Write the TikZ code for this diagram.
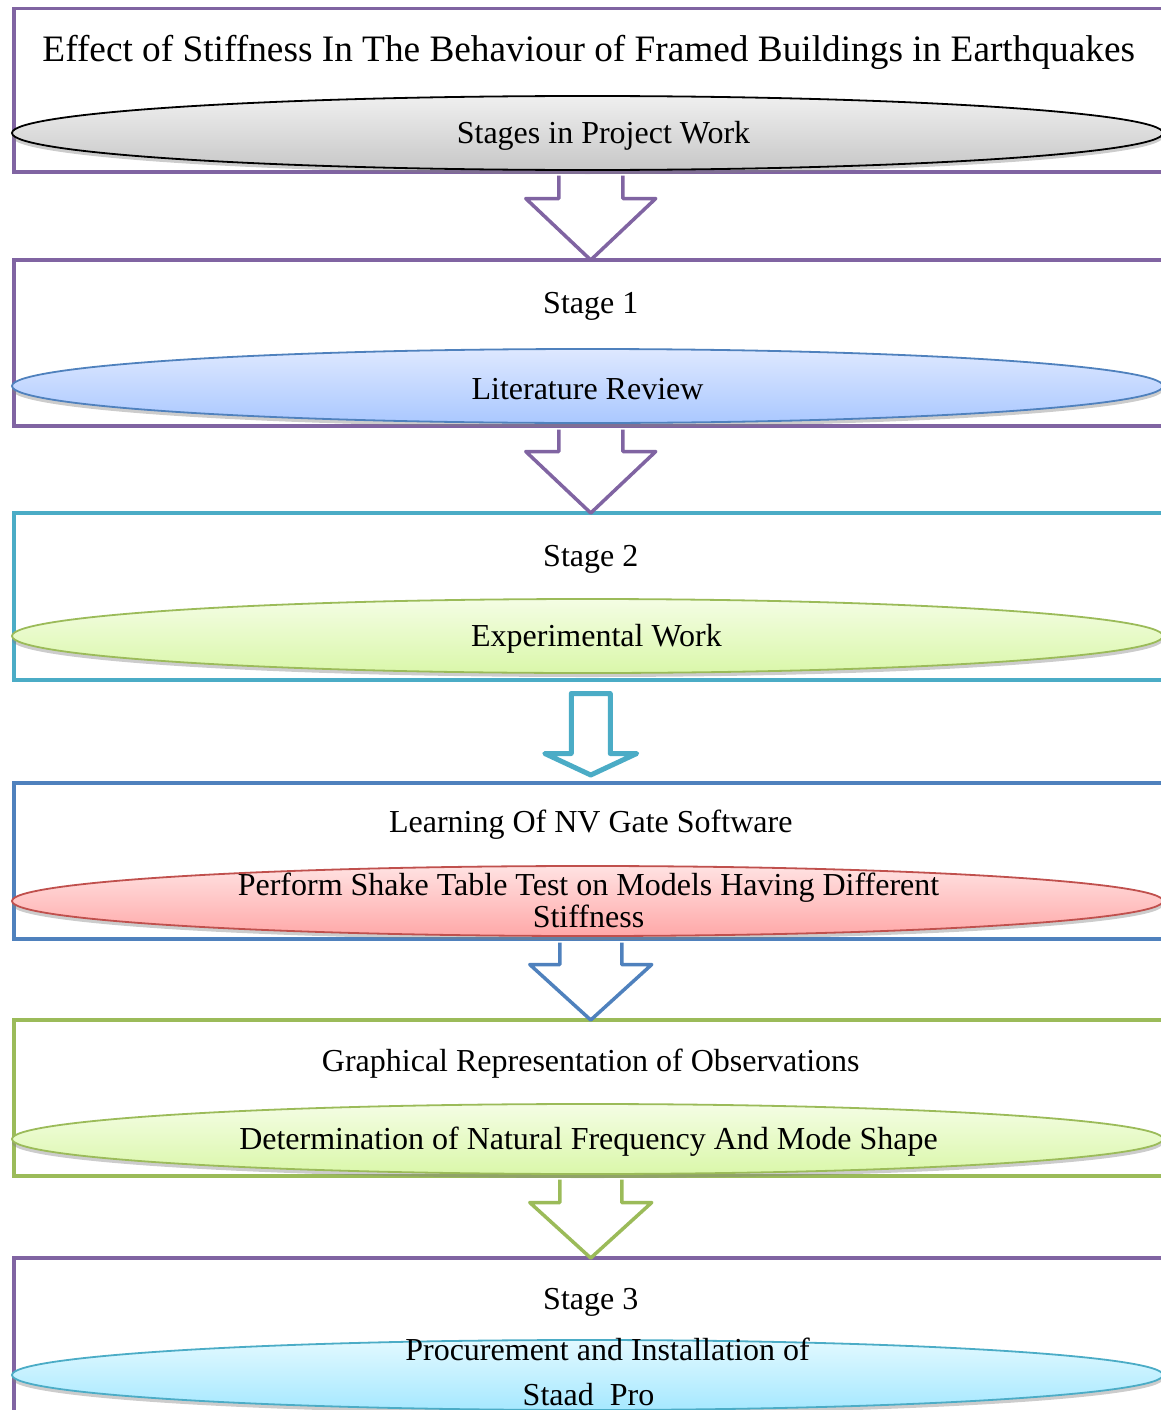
\documentclass[tikz,border=0pt]{standalone}
\usepackage{fontspec}
\setmainfont{Liberation Serif}
\usepackage{tikz}
\usetikzlibrary{positioning, shapes, shadows}
\usetikzlibrary{shapes.geometric}
\definecolor{c_purple}{HTML}{8064A2}
\definecolor{c_teal}{HTML}{4BACC6}
\definecolor{c_blue}{HTML}{4F81BD}
\definecolor{c_green}{HTML}{9BBB59}
\definecolor{c_red}{HTML}{C0504D}
\newcommand{\bodyfont}{\fontsize{32}{32}\selectfont}
\newcommand{\titlefont}{\fontsize{37.3}{40}\selectfont}
\tikzstyle{box_style} = [rectangle, draw, line width=3.5pt, minimum width=1154pt, anchor=north west, inner sep=0pt]
\tikzstyle{ell_style} = [ellipse, draw, line width=1.8pt, minimum width=1151pt, inner sep=0pt, drop shadow={shadow xshift=0pt, shadow yshift=-4pt, opacity=0.4}]
\tikzstyle{text_style} = [font=\bodyfont, inner sep=0pt, align=center, yshift=-3pt]
\tikzstyle{arrow_style} = [line width=3.5pt, line join=round]
% block arrow: style, from, to, gap, drop, shaft, head, tip, end
\newcommand{\blockarrow}[9]{%
  \draw[arrow_style, #1] ([xshift=-#6pt, yshift=-#4pt]#2.south) -- ([xshift=-#6pt, yshift=-#5pt]#2.south)
    -- ([xshift=-#7pt, yshift=-#5pt]#2.south) -- ([yshift=#8pt]#3.north)
    -- ([xshift=#7pt, yshift=-#5pt]#2.south) -- ([xshift=#6pt, yshift=-#5pt]#2.south)
    -- ([xshift=#6pt, yshift=-#4pt]#2.south) #9;}
\begin{document}
\begin{tikzpicture}[x=1pt, y=-1pt]
  \useasboundingbox (0,0) rectangle (1161,1410);
  \clip (0,0) rectangle (1161,1410);

  % box 0
  \node[box_style, draw=c_purple, minimum height=163pt] (node0) at (12,7) {};
  \node[text_style, font=\titlefont] (title) at ([xshift=-2pt, yshift=-42pt]node0.north) {Effect of Stiffness In The Behaviour of Framed Buildings in Earthquakes};
  \node[ell_style, draw=black, top color=black!6, bottom color=black!22, minimum height=74pt] (ell0) at (587.5,133) {};
  \node[text_style] (txt0) at ([xshift=16pt]ell0.center) {Stages in Project Work};

  % box 1
  \node[box_style, draw=c_purple, minimum height=166pt] (node1) at (12,258) {};
  \node[text_style] (head1) at ([yshift=-45pt]node1.north) {Stage 1};
  \node[ell_style, draw=c_blue, top color={rgb,255:red,222;green,232;blue,255}, bottom color={rgb,255:red,170;green,200;blue,255}, minimum height=74pt] (ell1) at (587.5,386) {};
  \node[text_style] (txt1) at (ell1.center) {Literature Review};

  % box 2
  \node[box_style, draw=c_teal, minimum height=167pt] (node2) at (12,511) {};
  \node[text_style] (head2) at ([yshift=-45pt]node2.north) {Stage 2};
  \node[ell_style, draw=c_green, top color={rgb,255:red,244;green,253;blue,228}, bottom color={rgb,255:red,218;green,247;blue,170}, minimum height=74pt] (ell2) at (587.5,636) {};
  \node[text_style] (txt2) at ([xshift=9pt]ell2.center) {Experimental Work};

  % box 3
  \node[box_style, draw=c_blue, minimum height=156pt] (node3) at (12,781) {};
  \node[text_style] (head3) at ([yshift=-41pt]node3.north) {Learning Of NV Gate Software};
  \node[ell_style, draw=c_red, top color={rgb,255:red,255;green,226;blue,226}, bottom color={rgb,255:red,255;green,168;blue,168}, minimum height=70pt] (ell3) at (587.5,901) {};
  \node[text_style] (txt3) at ([xshift=1pt, yshift=4pt]ell3.center) {Perform Shake Table Test on Models Having Different\\Stiffness};

  % box 4
  \node[box_style, draw=c_green, minimum height=156pt] (node4) at (12,1018) {};
  \node[text_style] (head4) at ([yshift=-43pt]node4.north) {Graphical Representation of Observations};
  \node[ell_style, draw=c_green, top color={rgb,255:red,244;green,253;blue,228}, bottom color={rgb,255:red,218;green,247;blue,170}, minimum height=70pt] (ell4) at (587.5,1139) {};
  \node[text_style] (txt4) at ([xshift=1pt]ell4.center) {Determination of Natural Frequency And Mode Shape};

  % box 5
  \node[box_style, draw=c_purple, minimum height=200pt] (node5) at (12,1256) {};
  \node[text_style] (head5) at ([yshift=-43pt]node5.north) {Stage 3};
  \node[ell_style, draw=c_teal, top color={rgb,255:red,226;green,249;blue,255}, bottom color={rgb,255:red,166;green,232;blue,255}, minimum height=70pt] (ell5) at (587.5,1375) {};
  \node[text_style] (txt5) at ([xshift=1pt, yshift=6pt]ell5.center) {\hspace*{38pt}Procurement and Installation of\\[13pt]Staad\ \ Pro};

  % arrows
  \blockarrow{draw=c_purple}{node0}{node1}{2}{25}{32}{65}{-2}{}
  \blockarrow{draw=c_purple}{node1}{node2}{2}{24}{32}{65}{-2}{}
  \blockarrow{draw=c_teal, line width=5pt}{node2}{node3}{12}{72}{19.5}{46}{6}{-- cycle}
  \blockarrow{draw=c_blue}{node3}{node4}{2}{24}{31}{61}{-2}{}
  \blockarrow{draw=c_green}{node4}{node5}{2}{25}{31}{61}{-2}{}

\end{tikzpicture}
\end{document}
